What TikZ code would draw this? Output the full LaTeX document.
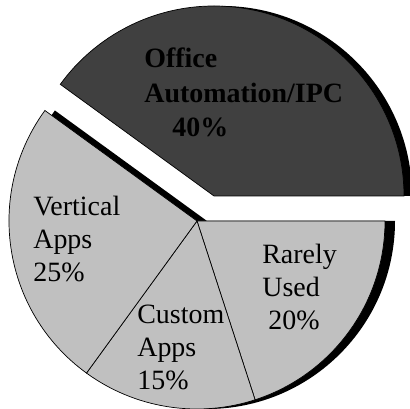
\documentclass[tikz,border=0pt]{standalone}
\usepackage{fontspec}
\setmainfont{Liberation Serif}
\usepackage{tikz}
\usetikzlibrary{positioning}
\definecolor{darkslice}{HTML}{404040}
\definecolor{lightslice}{HTML}{C0C0C0}
\tikzset{
    slice/.style={draw=black, thin, fill=lightslice},
    bigslice/.style={draw=black, thin, fill=darkslice},
    shadowfill/.style={fill=black},
    slicetext/.style={align=left, anchor=base west, inner sep=0pt, font=\fontsize{15.9}{18.8}\selectfont}
}

\begin{document}
\begin{tikzpicture}
    \useasboundingbox (-3.94,-3.76) rectangle (4.26,4.42);
    \clip (-3.94,-3.76) rectangle (4.26,4.42);
    % Shadows
    \fill[shadowfill] (0.2,0) -- ++(0:3.76) arc[start angle=0, end angle=-216, radius=3.76] -- cycle;
    \fill[shadowfill] (0.50,0.5) -- ++(0:3.8) arc[start angle=0, end angle=144, radius=3.8] -- cycle;
    % Exploded slice
    \draw[bigslice] (0.34,0.5) -- ++(0:3.8) arc[start angle=0, end angle=144, radius=3.8] -- cycle;
    % Rarely used
    \draw[slice] (0,0) -- (0:3.76) arc[start angle=0, end angle=-72, radius=3.76] -- cycle;
    % Custom apps
    \draw[slice] (0,0) -- (-72:3.76) arc[start angle=-72, end angle=-126, radius=3.76] -- cycle;
    % Vertical apps
    \draw[slice] (0,0) -- (-126:3.76) arc[start angle=-126, end angle=-216, radius=3.76] -- cycle;
    % Labels (placed at baseline of last line)
    \node[slicetext, font=\fontsize{15.9}{19.8}\selectfont\bfseries] (office) at (-1.06,1.68) {Office\\Automation/IPC\\\hspace*{0.56cm}40\%};
    \node[slicetext] (vertical) at (-3.28,-1.22) {Vertical\\Apps\\25\%};
    \node[slicetext] (rarely) at (1.30,-2.18) {Rarely\\Used\\\hspace*{0.12cm}20\%};
    \node[slicetext] (custom) at (-1.2,-3.38) {Custom\\Apps\\15\%};
\end{tikzpicture}
\end{document}
